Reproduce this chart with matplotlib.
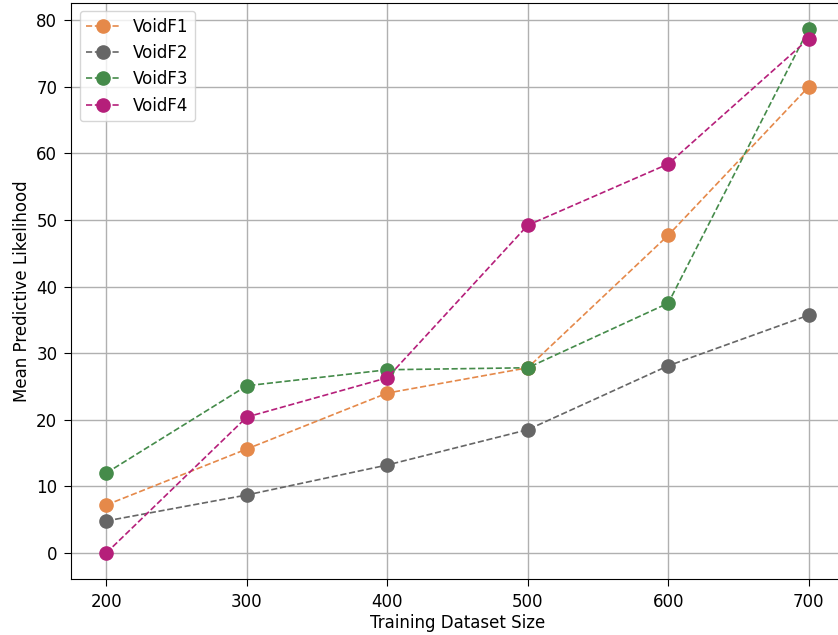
import numpy as np
import matplotlib
matplotlib.use("Agg")
import matplotlib.pyplot as plt

sizes = [200, 300, 400, 500, 600, 700]
voidf1 = [7.2, 15.6, 24.0, 27.8, 47.7, 70.0]
voidf2 = [4.8, 8.7, 13.2, 18.5, 28.1, 35.7]
voidf3 = [12.0, 25.1, 27.5, 27.8, 37.5, 78.7]
voidf4 = [0.0, 20.4, 26.3, 49.2, 58.4, 77.2]

series = [
    ("VoidF1", voidf1, "#e5894a"),
    ("VoidF2", voidf2, "#666666"),
    ("VoidF3", voidf3, "#458b4a"),
    ("VoidF4", voidf4, "#b51f7a"),
]

fig = plt.figure(figsize=(8.38, 6.35), dpi=100)
ax = fig.add_axes([0.085, 0.088, 0.922, 0.908])

for name, vals, c in series:
    ax.plot(sizes, vals, linestyle="--", marker="o", color=c,
            markersize=9.5, linewidth=1.2, label=name)

ax.set_xlabel("Training Dataset Size", fontsize=12, labelpad=2)
ax.set_ylabel("Mean Predictive Likelihood", fontsize=12, labelpad=4)
ax.tick_params(labelsize=12, length=5, pad=5)
ax.grid(True, color="#b0b0b0", linewidth=1)
ax.set_axisbelow(True)
ax.legend(loc="upper left", fontsize=12)

fig.savefig("out.png", dpi=100)
